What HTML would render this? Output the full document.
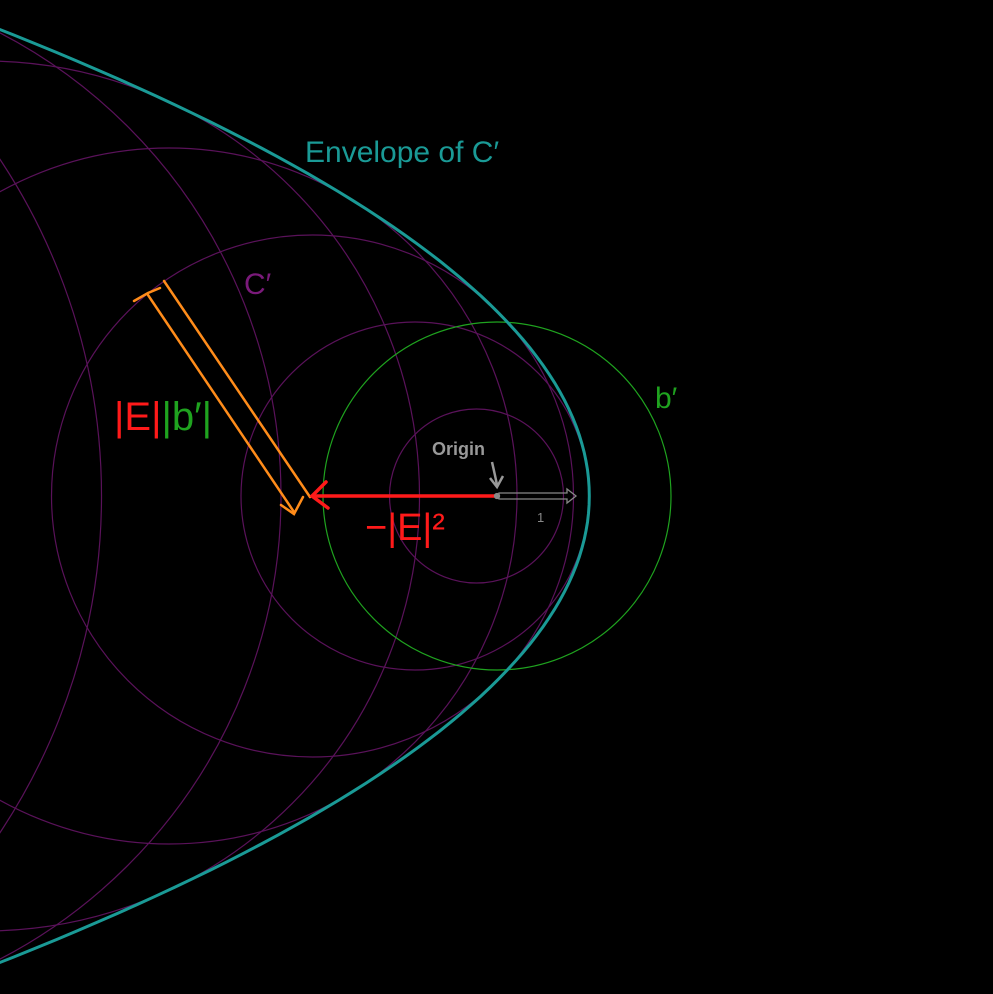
<!DOCTYPE html>
<html><head><meta charset="utf-8"><style>
html,body{margin:0;padding:0;background:#000;overflow:hidden;width:993px;height:994px}
svg{display:block}
text{font-family:"Liberation Sans",sans-serif}
</style></head><body>
<svg id="chart" width="993" height="994" viewBox="0 0 993 994">
<rect width="993" height="994" fill="#000"/>
<g id="circles"></g>
<circle id="bcircle" fill="none" stroke="#1fa31f" stroke-width="1.2"/>
<path id="env" fill="none" stroke="#1a9a96" stroke-width="3"/>
<g stroke="#ff8c1a" stroke-width="2.5" fill="none" stroke-linecap="round">
<line x1="148" y1="295" x2="294" y2="512"/>
<line x1="164" y1="281" x2="310" y2="497"/>
<polyline points="134,301 148,293 160,288"/>
<polyline points="281,505 294,514 303,497"/>
</g>
<g stroke="#ff1a1a" stroke-width="3.5" fill="none" stroke-linecap="round">
<line x1="497" y1="496" x2="312" y2="496"/>
<polyline points="326,482 312,496 328,508"/>
</g>
<g stroke="#888" stroke-width="1.3" fill="none">
<polygon points="499,493 567,493 567,489 576,496 567,503 567,499 499,499"/>
<circle cx="497" cy="496" r="2.5" fill="#888"/>
</g>
<text x="537" y="522" fill="#888" font-size="13">1</text>
<text x="432" y="455" fill="#999" font-size="18" font-weight="bold">Origin</text>
<path d="M492,462 Q495,475 497,485 M490,478 L497,487 L503,476" stroke="#999" stroke-width="2.5" fill="none"/>
<text x="305" y="162" fill="#1a9a96" font-size="30">Envelope of C′</text>
<text x="244" y="294" fill="#7a1a7a" font-size="30">C′</text>
<text x="655" y="408" fill="#1fa31f" font-size="30">b′</text>
<text x="114" y="430" font-size="40"><tspan fill="#ff1a1a">|E|</tspan><tspan fill="#1fa31f">|b′|</tspan></text>
<text x="365" y="540" fill="#ff1a1a" font-size="38">−|E|²</text>
</svg>
<script>
const eValues = [0.5, 1, 1.5, 2, 2.5, 3, 3.5, 4, 4.5];
const unitPx = [82];
const bRadius = [174];
const origin = {x: 497, y: 496};
const u = unitPx[0], R = bRadius[0];
const NS = "http://www.w3.org/2000/svg";
const g = document.getElementById('circles');
eValues.forEach(e => {
  const c = document.createElementNS(NS, 'circle');
  
  
  c.setAttribute('cx', origin.x - e*e*u);
  c.setAttribute('cy', origin.y);
  c.setAttribute('r', e*R);
  c.setAttribute('fill', 'none');
  c.setAttribute('stroke', '#5a125a');
  c.setAttribute('stroke-width', '1.2');
  g.appendChild(c);
});
const b = document.getElementById('bcircle');
b.setAttribute('cx', origin.x); b.setAttribute('cy', origin.y); b.setAttribute('r', R);
const e0 = R/(2*u);
let pts = [];
for (let t = -6; t <= 6.0001; t += 0.05) {
  const e = Math.sqrt(e0*e0 + t*t);
  const X = R*R/(2*u) - e*e*u;
  const y2 = e*e*R*R - Math.pow(R,4)/(4*u*u);
  const y = Math.sign(t) * Math.sqrt(Math.max(0, y2));
  pts.push((origin.x + X).toFixed(1) + ',' + (origin.y + y).toFixed(1));
}
document.getElementById('env').setAttribute('d', 'M' + pts.join(' L'));
</script>
</body></html>
